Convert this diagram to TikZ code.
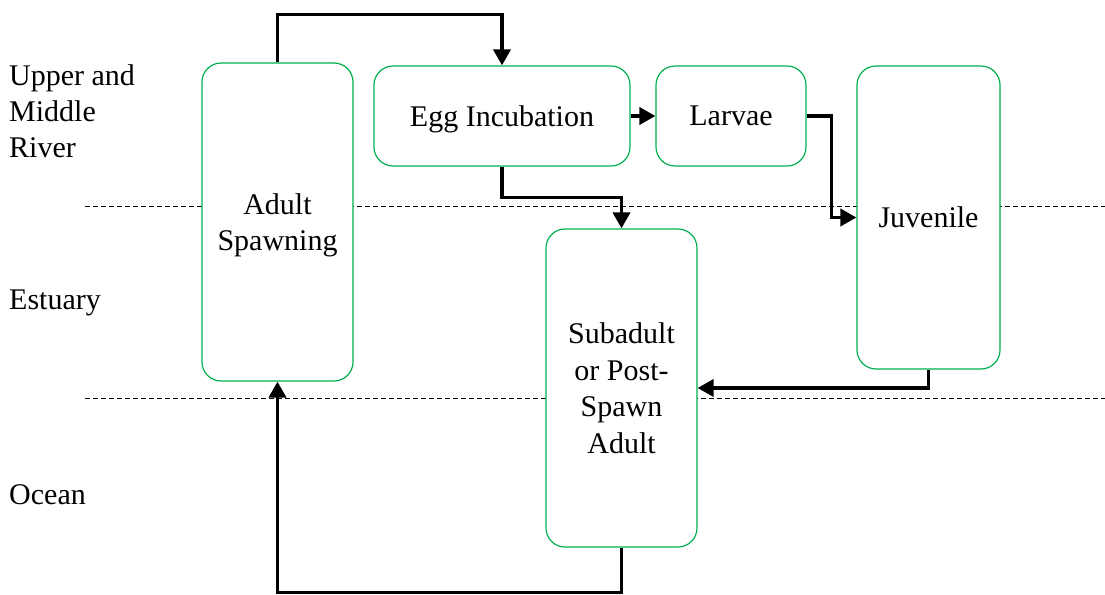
\documentclass[tikz,border=0pt]{standalone}
\usepackage{fontspec}
\setmainfont{Liberation Serif}
\usetikzlibrary{arrows.meta}
\definecolor{boxgreen}{RGB}{0,176,80}
\begin{document}
\begin{tikzpicture}[x=1pt,y=-1pt,
  box/.style={draw=boxgreen, line width=1.2pt, fill=white, rounded corners=19pt,
    align=center, inner sep=0pt, text depth=0pt, font=\fontsize{30}{36.5}\selectfont},
  region/.style={anchor=west, align=left, inner sep=0pt, font=\fontsize{30}{36}\selectfont},
  arr/.style={line width=3.7pt, -{Triangle[length=16pt,width=17pt]}},
  sep/.style={line width=0.9pt, dash pattern=on 5pt off 3pt}]
\useasboundingbox (0,0) rectangle (1105,594);
% separators
\draw[sep] (85,206) -- (1105,206);
\draw[sep] (85,398) -- (1105,398);
% region labels
\node[region] (upper) at (9,111) {Upper and\\Middle\\River};
\node[region] (estuary) at (9,303) {Estuary};
\node[region] (ocean) at (9,495) {Ocean};
% boxes
\node[box, minimum width=151pt, minimum height=318pt] (adult) at (277.5,222) {Adult\\Spawning};
\node[box, minimum width=256pt, minimum height=100pt] (egg) at (502,116) {Egg Incubation};
\node[box, minimum width=150pt, minimum height=100pt] (larvae) at (731,116) {Larvae};
\node[box, minimum width=143pt, minimum height=303pt] (juv) at (928.5,217.5) {Juvenile};
\node[box, minimum width=151pt, minimum height=318pt] (sub) at (621.5,388) {Subadult\\or Post-\\Spawn\\Adult};
% connectors
\draw[arr] (adult.north) -- ++(0,-48) -| (egg.north);
\draw[arr] (egg.east) -- (larvae.west);
\draw[arr] (egg.south) -- ++(0,31) -| (sub.north);
\draw[arr] (larvae.east) -- ++(25,0) |- (juv.west);
\draw[arr] (juv.south) |- (sub.east);
\draw[arr] (sub.south) -- ++(0,45) -| (adult.south);
\end{tikzpicture}
\end{document}
